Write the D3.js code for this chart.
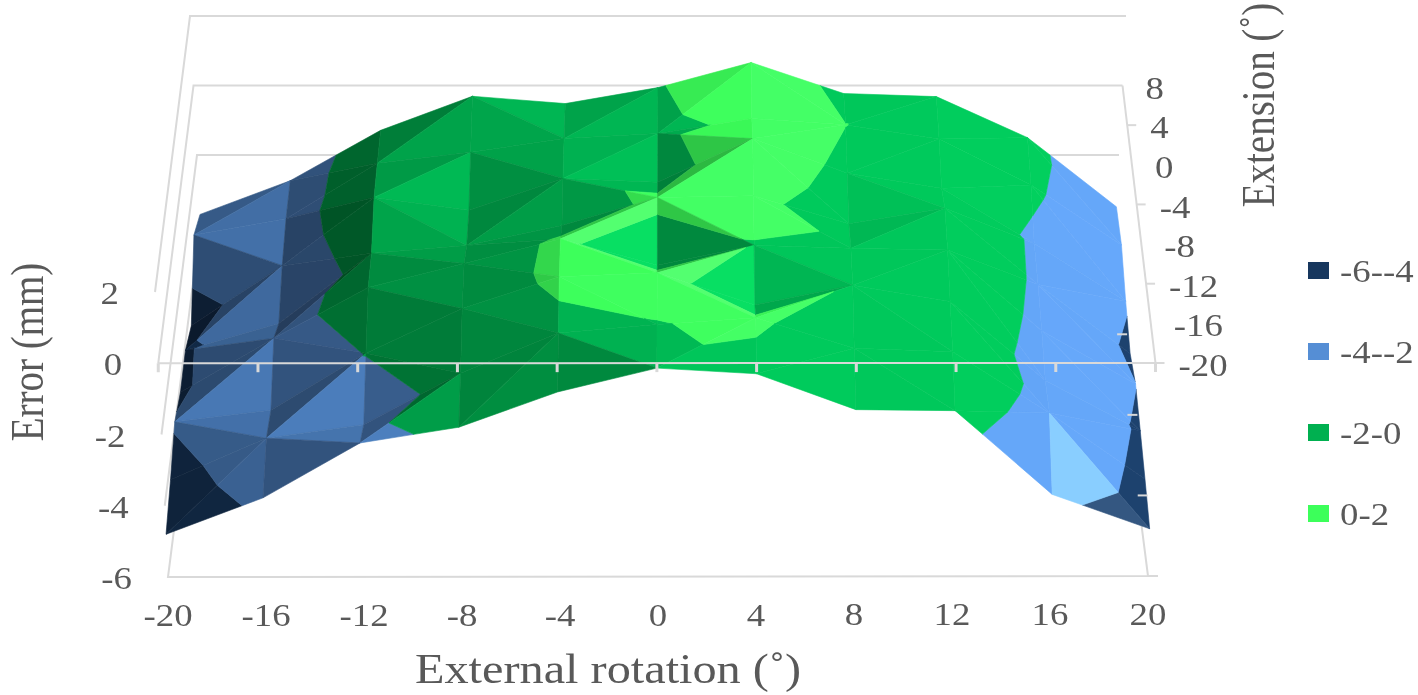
<!DOCTYPE html>
<html>
<head>
<meta charset="utf-8">
<script src="https://cdn.jsdelivr.net/npm/d3@7"></script>
<style>
  html, body { margin: 0; background: #fff; }
  svg { display: block; filter: blur(0.5px); }
  text { font-family: "Liberation Serif", serif; fill: #595959; }
</style>
</head>
<body>
<script>
// x axis categories and depth series, as on the chart
const rotationTicks = [-20, -16, -12, -8, -4, 0, 4, 8, 12, 16, 20];
const extensionTicks = [8, 4, 0, -4, -8, -12, -16, -20];
const errorTicks = [2, 0, -2, -4, -6];

// error (mm), one list per extension value
const errorAt8 = [-3.71, -2.74, -1.29, -0.31, -0.52, -0.06, 0.66, -0.23, -0.32, -1.5, -3.49];
const errorAt4 = [-3.15, -2.68, -1.09, -0.78, -0.38, -0.24, 0.19, 0.01, -0.4, -1.72, -3.44];
const errorAt0 = [-4.6, -2.88, -0.93, -1.3, -0.39, -0.5, 0.75, -0.24, -0.67, -2.25, -3.9];
const errorAtM4 = [-4.15, -3.39, -1.39, -1.17, -0.6, 0.2, 0.25, -0.55, -0.11, -2.28, -4.25];
const errorAtM8 = [-4.2, -2.67, -1.23, -0.55, 0.15, -0.6, -0.03, -0.12, -0.17, -2.46, -3.98];
const errorAtM12 = [-3.9, -3.57, -1.96, -0.7, 0.2, 0.31, -0.6, -0.04, -0.5, -2.74, -4.17];
const errorAtM16 = [-4.4, -3.23, -2.85, -1.4, -0.27, -0.03, 0.16, -0.7, -0.8, -2.53, -4.4];
const errorAtM20 = [-4.8, -3.78, -2.24, -1.8, -0.81, -0.14, -0.3, -1.31, -1.34, -3.7, -4.67];
const errorRows = [errorAt8, errorAt4, errorAt0, errorAtM4, errorAtM8, errorAtM12, errorAtM16, errorAtM20];

// colour bands
const bandNames = ["-6--4", "-4--2", "-2-0", "0-2"];
const bandEdges = [-6, -4, -2, 0, 2];
const bandColors = ["#17375e", "#558ed5", "#00b050", "#3cff5a"];

function main() {
  const width = 1418, height = 695;

  const svg = d3.select("body").append("svg")
    .attr("width", width)
    .attr("height", height);

  // box corners on screen, the 3d view is a trilinear blend of them
  const tx = d3.scaleLinear([-20, 20], [0, 1]);
  const te = d3.scaleLinear([-20, 8], [0, 1]);
  const tz = d3.scaleLinear([-6, 2], [0, 1]);
  const frontFloor = {l: [168, 577], r: [1148, 576]};
  const frontTop = {l: [155, 292], r: [1158, 292]};
  const backFloor = {l: [204, 294], r: [1112, 294]};
  const backTop = {l: [190, 16], r: [1126, 16]};

  const mix = (a, b, t) => a + (b - a) * t;
  function project(x, e, z) {
    const a = tx(x), b = te(e), c = tz(z);
    return [0, 1].map(k => {
      const front = mix(mix(frontFloor.l[k], frontFloor.r[k], a), mix(frontTop.l[k], frontTop.r[k], a), c);
      const back = mix(mix(backFloor.l[k], backFloor.r[k], a), mix(backTop.l[k], backTop.r[k], a), c);
      return mix(front, back, b);
    });
  }

  const line = d3.line();
  const path = pts => line(pts) + "Z";

  // walls and floor
  const walls = svg.append("g")
    .attr("stroke", "#d9d9d9")
    .attr("stroke-width", 2)
    .attr("fill", "none");
  [2, 0, -2].forEach(z => {
    walls.append("path").attr("d", line([project(-20, -20, z), project(-20, 8, z), project(20, 8, z)]));
  });
  walls.append("path").attr("d", line([project(-20, -20, -4), project(-20, 8, -4)]));
  walls.append("path").attr("d", line([project(-20, 8, -6), project(-20, -20, -6), project(20, -20, -6), project(20, 8, -6)]));
  walls.append("path").attr("d", line([project(20, 8, 0), project(20, -20, 0)]));

  // two triangles per cell, split along the higher diagonal
  const facets = [];
  for (let r = 0; r < extensionTicks.length - 1; r++) {
    for (let i = 0; i < rotationTicks.length - 1; i++) {
      const v = (ci, cr) => ({i: ci, r: cr, x: rotationTicks[ci], e: extensionTicks[cr], z: errorRows[cr][ci]});
      const a = v(i, r), b = v(i + 1, r), c = v(i, r + 1), d = v(i + 1, r + 1);
      const tris = (a.z + d.z) >= (b.z + c.z) ? [[a, b, d], [a, d, c]] : [[a, b, c], [b, d, c]];
      tris.forEach(tri => {
        const shade = shadeOf(tri);
        bandColors.forEach((col, k) => {
          const poly = clipBand(tri, bandEdges[k], bandEdges[k + 1]);
          if (poly.length > 2) facets.push({poly, color: tint(col, shade)});
        });
      });
    }
  }

  svg.append("g").selectAll("path")
    .data(facets)
    .join("path")
      .attr("d", d => path(d.poly.map(p => project(p.x, p.e, p.z))))
      .attr("fill", d => d.color)
      .attr("stroke", d => d.color)
      .attr("stroke-width", 0.6)
      .attr("stroke-linejoin", "round");

  // axis lines that lie over the surface
  const over = svg.append("g")
    .attr("stroke", "#d9d9d9")
    .attr("fill", "none");
  over.append("path")
    .attr("stroke-width", 2)
    .attr("d", line([project(-20, -20, 0), project(20, -20, 0)]));
  over.selectAll(".xtick")
    .data(rotationTicks)
    .join("path")
      .attr("stroke-width", 3)
      .attr("d", d => {
        const p = project(d, -20, 0);
        return line([p, [p[0], p[1] + 9]]);
      });
  const everyOther = extensionTicks.filter((d, i) => i % 2 == 1);
  over.selectAll(".floortick")
    .data(everyOther)
    .join("path")
      .attr("stroke-width", 2)
      .attr("d", d => {
        const p = project(20, d, -6);
        return line([p, [p[0] + 10, p[1]]]);
      });
  over.selectAll(".exttick")
    .data(everyOther)
    .join("path")
      .attr("stroke-width", 2)
      .attr("d", d => {
        const p = project(20, d, 0);
        return line([p, [p[0] + 9, p[1]]]);
      });

  // stretched text, the picture is wider than it was drawn
  function label(x, y, str, size, anchor, rotate) {
    const t = rotate ? ` rotate(${rotate}) scale(1,1.2)` : " scale(1.15,1)";
    return svg.append("text")
      .attr("transform", `translate(${x},${y})` + t)
      .attr("text-anchor", anchor)
      .attr("dominant-baseline", "central")
      .attr("font-size", size)
      .text(str);
  }

  rotationTicks.forEach(d => {
    const p = project(d, -20, -6);
    label(p[0], p[1] + 38, d, 32, "middle");
  });
  errorTicks.forEach(d => {
    const p = project(-20, -20, d);
    label(p[0] - 36, p[1] + 1, d, 32, "end");
  });
  extensionTicks.forEach(d => {
    const p = project(20, d, 0);
    label(p[0] + 23, p[1] + 2, d, 32, "start");
  });

  label(608, 669, "External rotation (˚)", 42, "middle");
  label(27, 352, "Error (mm)", 39, "middle", -90);
  label(1258, 105, "Extension (˚)", 39, "middle", -90);

  // legend
  const legendY = d3.scalePoint(bandNames, [271, 514]);
  bandNames.forEach((name, k) => {
    svg.append("rect")
      .attr("x", 1308).attr("y", legendY(name) - 9)
      .attr("width", 21).attr("height", 17)
      .attr("fill", bandColors[k]);
    label(1340, legendY(name), name, 32, "start");
  });
}

// flat shading from the slope of a triangle, light comes from the right and front
function shadeOf(tri) {
  const [p, q, s] = tri;
  const ux = q.i - p.i, uy = q.r - p.r, uz = q.z - p.z;
  const vx = s.i - p.i, vy = s.r - p.r, vz = s.z - p.z;
  const det = ux * vy - uy * vx;
  const dzdx = (uz * vy - uy * vz) / det;
  const dzdr = (ux * vz - uz * vx) / det;
  const nx = -0.35 * dzdx, ny = -0.3 * (dzdr > 0 ? dzdr * 0.4 : dzdr), len = Math.hypot(nx, ny, 1);
  const midX = d3.mean(tri, d => d.x);
  const midR = d3.mean(tri, d => d.r);
  let m = 1.3 * (0.45 * nx + 0.25 * ny + 0.82) / len * (1 + 0.011 * midX);
  // the right hand faces level off, only the steep forward ones get lighter
  if (m > 1.12) m = 1.12 + (m - 1.12) * 0.15;
  if (midX > 0 && dzdr < -0.8 && dzdr < dzdx) m += 0.2;
  // the pits round the middle are lit much harder on one side than the other
  if (Math.abs(midX) < 4 && midR > 3) {
    if (dzdx < -0.5) m = Math.max(m, 1.24);
    if (dzdx > 0.4) m = Math.min(m, 0.78);
  }
  return m;
}

function tint(color, m) {
  const c = d3.rgb(color);
  const up = Math.max(0, m - 1.15);
  return d3.rgb(c.r * m + 90 * up, c.g * m + 50 * up, c.b * m).formatHex();
}

// keep the part of a triangle between two error levels
function clipBand(tri, lo, hi) {
  return clipAt(clipAt(tri, lo, 1), hi, -1);
}

function clipAt(pts, level, sign) {
  const out = [];
  pts.forEach((p, n) => {
    const q = pts[(n + 1) % pts.length];
    const dp = sign * (p.z - level), dq = sign * (q.z - level);
    if (dp >= 0) out.push(p);
    if (dp * dq < 0) {
      const t = dp / (dp - dq);
      out.push({
        x: p.x + (q.x - p.x) * t,
        e: p.e + (q.e - p.e) * t,
        z: level
      });
    }
  });
  return out;
}

window.addEventListener("load", main);
</script>
</body>
</html>
